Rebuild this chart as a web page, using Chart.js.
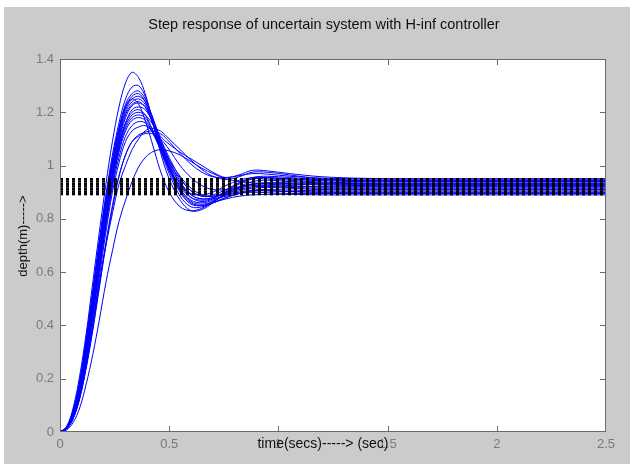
<!DOCTYPE html>
<html>
<head>
<meta charset="utf-8">
<script src="https://cdn.jsdelivr.net/npm/chart.js@4.4.1/dist/chart.umd.min.js"></script>
<style>
  html, body { margin: 0; padding: 0; background: #ffffff; }
  canvas { display: block; }
</style>
</head>
<body>
<canvas id="stepChart" width="630" height="464"></canvas>
<script>
// --- DATA ---
const times = [0, 0.03, 0.06, 0.09, 0.12, 0.15, 0.18, 0.21, 0.24, 0.27, 0.30, 0.33, 0.36, 0.39, 0.42,
               0.46, 0.50, 0.55, 0.60, 0.65, 0.70, 0.76, 0.82, 0.88, 0.95, 1.05, 1.2, 1.4, 1.7, 2.5];

// step responses of the sampled plants (depth in m)
const resp01 = [0, .02, .09, .21, .37, .56, .75, .93, 1.09, 1.22, 1.31, 1.35, 1.33, 1.27, 1.18, 1.05, .95, .87, .83, .835, .86, .90, .93, .95, .955, .95, .943, .94, .94, .94];
const resp02 = [0, .018, .08, .19, .35, .53, .72, .89, 1.04, 1.16, 1.25, 1.295, 1.30, 1.26, 1.18, 1.07, .98, .90, .855, .85, .865, .895, .92, .94, .945, .94, .935, .932, .932, .932];
const resp03 = [0, .017, .075, .18, .33, .51, .70, .87, 1.02, 1.14, 1.23, 1.27, 1.28, 1.25, 1.19, 1.09, 1.0, .915, .865, .855, .865, .89, .915, .93, .935, .932, .927, .925, .925, .925];
const resp04 = [0, .016, .07, .17, .32, .49, .68, .86, 1.0, 1.12, 1.21, 1.25, 1.26, 1.24, 1.19, 1.10, 1.02, .94, .89, .875, .88, .905, .935, .955, .96, .955, .948, .945, .945, .945];
const resp05 = [0, .016, .07, .17, .31, .48, .67, .85, .99, 1.11, 1.20, 1.24, 1.25, 1.23, 1.17, 1.08, .99, .91, .87, .86, .87, .89, .905, .915, .918, .915, .91, .91, .91, .91];
const resp06 = [0, .015, .068, .165, .30, .47, .66, .84, .98, 1.10, 1.19, 1.23, 1.24, 1.22, 1.17, 1.09, 1.01, .93, .88, .865, .875, .90, .92, .93, .93, .925, .92, .92, .92, .92];
const resp07 = [0, .015, .065, .16, .30, .46, .65, .83, .97, 1.09, 1.18, 1.225, 1.235, 1.22, 1.17, 1.08, .99, .905, .86, .85, .86, .88, .895, .905, .906, .903, .90, .90, .90, .90];
const resp08 = [0, .014, .062, .155, .29, .45, .63, .81, .96, 1.08, 1.16, 1.21, 1.22, 1.21, 1.17, 1.10, 1.03, .955, .905, .885, .89, .91, .935, .95, .95, .945, .938, .935, .935, .935];
const resp09 = [0, .014, .062, .155, .29, .45, .63, .80, .95, 1.07, 1.15, 1.19, 1.20, 1.19, 1.16, 1.11, 1.08, 1.05, 1.025, 1.0, .975, .955, .965, .982, .98, .97, .958, .952, .95, .95];
const resp10 = [0, .013, .058, .145, .28, .44, .61, .78, .93, 1.05, 1.13, 1.17, 1.18, 1.17, 1.13, 1.06, .99, .92, .88, .87, .875, .885, .895, .90, .898, .895, .895, .895, .895, .895];
const resp11 = [0, .012, .055, .14, .27, .43, .60, .77, .92, 1.03, 1.11, 1.15, 1.165, 1.16, 1.13, 1.07, 1.01, .95, .905, .885, .885, .895, .91, .92, .922, .918, .915, .915, .915, .915];
const resp12 = [0, .012, .052, .135, .26, .41, .58, .75, .90, 1.01, 1.09, 1.13, 1.145, 1.15, 1.13, 1.08, 1.02, .96, .915, .89, .885, .89, .90, .908, .91, .908, .905, .905, .905, .905];
const resp13 = [0, .01, .05, .13, .25, .40, .56, .70, .82, .93, 1.0, 1.06, 1.10, 1.13, 1.14, 1.13, 1.10, 1.06, 1.02, .985, .96, .948, .958, .975, .975, .965, .95, .943, .94, .94];
const resp14 = [0, .011, .05, .125, .24, .38, .54, .70, .84, .96, 1.04, 1.09, 1.11, 1.12, 1.12, 1.10, 1.06, 1.0, .955, .925, .91, .91, .92, .93, .935, .935, .932, .93, .93, .93];
const resp15 = [0, .008, .035, .09, .18, .29, .42, .56, .68, .79, .87, .94, .995, 1.03, 1.05, 1.06, 1.055, 1.04, 1.015, .99, .97, .95, .94, .935, .932, .93, .93, .93, .93, .93];
const resp16 = [0, .018, .08, .19, .35, .53, .71, .88, 1.02, 1.14, 1.22, 1.25, 1.23, 1.17, 1.09, .98, .90, .845, .83, .84, .86, .875, .885, .89, .892, .892, .89, .89, .89, .89];
const resp17 = [0, .015, .065, .16, .30, .46, .64, .82, .96, 1.08, 1.16, 1.20, 1.21, 1.19, 1.14, 1.06, .99, .925, .895, .89, .90, .925, .945, .955, .955, .95, .946, .945, .945, .945];
const resp18 = [0, .014, .06, .15, .285, .445, .62, .79, .94, 1.06, 1.14, 1.18, 1.19, 1.18, 1.14, 1.07, 1.0, .935, .89, .875, .88, .90, .915, .925, .925, .922, .92, .92, .92, .92];
const resp19 = [0, .017, .075, .18, .33, .51, .70, .87, 1.01, 1.13, 1.22, 1.26, 1.27, 1.24, 1.17, 1.06, .97, .885, .845, .845, .86, .88, .895, .905, .905, .902, .90, .90, .90, .90];
const resp20 = [0, .011, .05, .125, .245, .39, .55, .71, .85, .96, 1.04, 1.09, 1.115, 1.125, 1.13, 1.12, 1.09, 1.045, 1.005, .975, .958, .955, .962, .97, .968, .96, .953, .95, .95, .95];

const responses = [resp01, resp02, resp03, resp04, resp05, resp06, resp07, resp08, resp09, resp10,
                   resp11, resp12, resp13, resp14, resp15, resp16, resp17, resp18, resp19, resp20];

// steady-state levels (black dotted lines)
const finalLevels = [0.893, 0.902, 0.911, 0.921, 0.930, 0.940, 0.949];
const timeSpan = [0, 2.5];

const xTicks = [0, 0.5, 1, 1.5, 2, 2.5];
const yTicks = [0, 0.2, 0.4, 0.6, 0.8, 1, 1.2, 1.4];

const titleText = 'Step response of uncertain system with H-inf controller';
const xLabelText = 'time(secs)-----> (sec)';
const yLabelText = 'depth(m)----->';

const FONT = '"Liberation Sans", Arial, Helvetica, sans-serif';

// --- DATASETS ---
const datasets = [];
finalLevels.forEach(level => {
    datasets.push({
        data: timeSpan.map(t => ({ x: t, y: level })),
        borderColor: '#000000',
        borderWidth: 2.5,
        borderDash: [3, 3],
        pointRadius: 0,
        tension: 0,
        order: 0
    });
});
responses.forEach(vals => {
    datasets.push({
        data: times.map((t, i) => ({ x: t, y: vals[i] })),
        borderColor: '#0000ff',
        borderWidth: 1,
        pointRadius: 0,
        tension: 0.35,
        order: 1
    });
});

// --- FIGURE DECORATION (matlab-like frame, title, labels) ---
const figurePlugin = {
    id: 'figureFrame',
    beforeDraw(chart) {
        const ctx = chart.ctx;
        const a = chart.chartArea;
        ctx.save();
        ctx.fillStyle = '#ffffff';
        ctx.fillRect(0, 0, chart.width, chart.height);
        ctx.fillStyle = '#cbcbcb';
        ctx.fillRect(4, 7, chart.width - 4, chart.height - 7);
        ctx.fillStyle = '#ffffff';
        ctx.fillRect(a.left, a.top, a.right - a.left, a.bottom - a.top);
        ctx.restore();
    },
    afterDraw(chart) {
        const ctx = chart.ctx;
        const a = chart.chartArea;
        const xs = chart.scales.x, ys = chart.scales.y;
        ctx.save();
        ctx.strokeStyle = '#6a6a6a';
        ctx.lineWidth = 1;
        ctx.strokeRect(a.left + 0.5, a.top + 0.5, a.right - a.left - 1, a.bottom - a.top - 1);
        ctx.beginPath();
        xTicks.slice(1, -1).forEach(v => {
            const px = Math.round(xs.getPixelForValue(v)) + 0.5;
            ctx.moveTo(px, a.bottom); ctx.lineTo(px, a.bottom - 6);
            ctx.moveTo(px, a.top); ctx.lineTo(px, a.top + 6);
        });
        yTicks.slice(1, -1).forEach(v => {
            const py = Math.round(ys.getPixelForValue(v)) + 0.5;
            ctx.moveTo(a.left, py); ctx.lineTo(a.left + 6, py);
            ctx.moveTo(a.right, py); ctx.lineTo(a.right - 6, py);
        });
        ctx.stroke();

        ctx.fillStyle = '#111111';
        ctx.textAlign = 'center';
        ctx.textBaseline = 'middle';
        ctx.font = '14.5px ' + FONT;
        ctx.fillText(titleText, 324, 25);
        ctx.font = '14px ' + FONT;
        ctx.fillText(xLabelText, 323, 444);

        ctx.font = '13px ' + FONT;
        ctx.translate(23, 236);
        ctx.rotate(-Math.PI / 2);
        ctx.fillText(yLabelText, 0, 0);
        ctx.restore();
    }
};

const fmt = v => String(Math.round(v * 10) / 10);

new Chart(document.getElementById('stepChart'), {
    type: 'line',
    data: { datasets: datasets },
    options: {
        responsive: false,
        animation: false,
        devicePixelRatio: 1,
        layout: { padding: { top: 59, right: 24, left: 0, bottom: 0 } },
        plugins: { legend: { display: false }, tooltip: { enabled: false }, title: { display: false } },
        scales: {
            x: {
                type: 'linear', min: 0, max: 2.5,
                grid: { display: false, drawTicks: false },
                border: { display: false },
                afterFit: s => { s.height = 32; },
                ticks: { stepSize: 0.5, padding: 5, color: '#7a7a7a', font: { family: FONT, size: 13 }, maxRotation: 0, callback: fmt }
            },
            y: {
                type: 'linear', min: 0, max: 1.4,
                grid: { display: false, drawTicks: false },
                border: { display: false },
                afterFit: s => { s.width = 60; },
                ticks: { stepSize: 0.2, padding: 6, color: '#7a7a7a', font: { family: FONT, size: 13 }, callback: fmt }
            }
        }
    },
    plugins: [figurePlugin]
});
</script>
</body>
</html>
